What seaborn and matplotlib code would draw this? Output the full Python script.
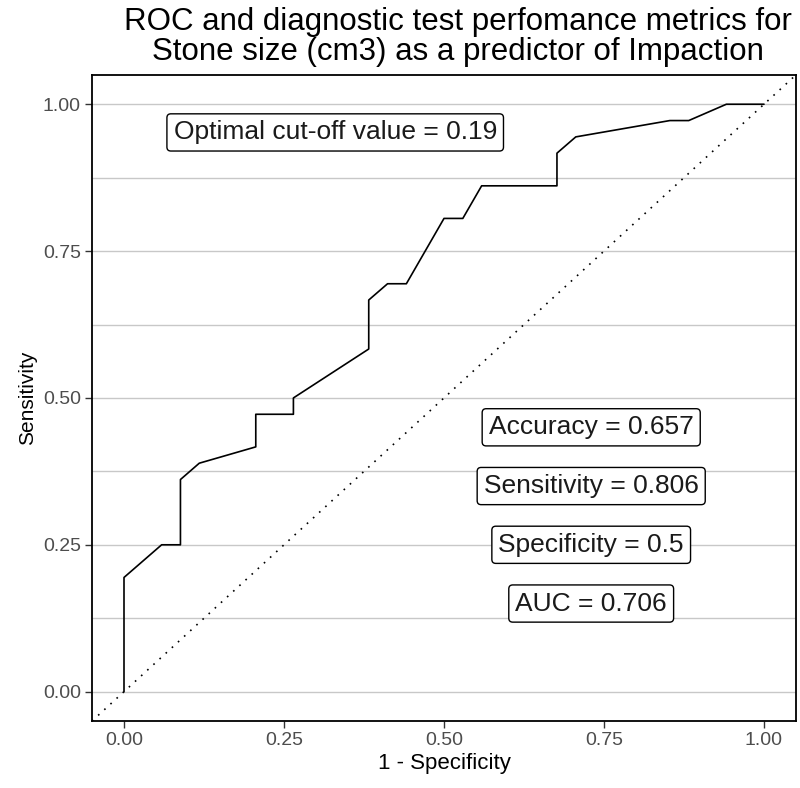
import pandas as pd
import matplotlib.pyplot as plt
import seaborn as sns
import numpy as np

sns.set_theme(style="white")
plt.rcParams['font.family'] = ['Liberation Sans', 'DejaVu Sans']

# ROC curve points (1 - specificity, sensitivity)
fpr = [0.0, 0.0, 0.0588, 0.0882, 0.0882, 0.1176, 0.2059, 0.2059, 0.2647, 0.2647,
       0.3824, 0.3824, 0.4118, 0.4412, 0.5, 0.5294, 0.5588, 0.6765, 0.6765,
       0.7059, 0.8529, 0.8824, 0.9412, 1.0]
tpr = [0.0, 0.1944, 0.25, 0.25, 0.3611, 0.3889, 0.4167, 0.4722, 0.4722, 0.5,
       0.5833, 0.6667, 0.6944, 0.6944, 0.8056, 0.8056, 0.8611, 0.8611, 0.9167,
       0.9444, 0.9722, 0.9722, 1.0, 1.0]

metric_labels = ["Accuracy = 0.657", "Sensitivity = 0.806",
                 "Specificity = 0.5", "AUC = 0.706"]
metric_y = [0.45, 0.35, 0.25, 0.15]
cutoff_label = "Optimal cut-off value = 0.19"

roc = pd.DataFrame({"fpr": fpr, "tpr": tpr})

fig = plt.figure(figsize=(8, 7.88), dpi=100)
ax = fig.add_axes([0.115, 0.085, 0.88, 0.82])

# horizontal grid only (major + minor)
for gy in np.arange(0, 1.01, 0.125):
    ax.axhline(gy, color="#c8c8c8", lw=1.0, zorder=0)

# reference diagonal across the whole panel
ax.plot([-0.05, 1.05], [-0.05, 1.05], color="black", lw=1.2,
        linestyle=(0, (1, 4)), zorder=1)

sns.lineplot(data=roc, x="fpr", y="tpr", sort=False, estimator=None,
             color="black", lw=1.2, ax=ax, zorder=2)

box = dict(boxstyle="round,pad=0.25,rounding_size=0.15", fc="white",
           ec="black", lw=1.0)
ax.text(0.33, 0.952, cutoff_label, ha="center", va="center",
        fontsize=19, color="#1a1a1a", bbox=box, zorder=3)
for lab, yy in zip(metric_labels, metric_y):
    ax.text(0.73, yy, lab, ha="center", va="center", fontsize=19,
            color="#1a1a1a", bbox=box, zorder=3)

ax.set_xlim(-0.05, 1.05)
ax.set_ylim(-0.05, 1.05)
ticks = [0, 0.25, 0.5, 0.75, 1.0]
ax.set_xticks(ticks)
ax.set_yticks(ticks)
ax.set_xticklabels(["0.00", "0.25", "0.50", "0.75", "1.00"])
ax.set_yticklabels(["0.00", "0.25", "0.50", "0.75", "1.00"])
ax.tick_params(axis="both", which="major", length=5, width=1, color="#333333",
               labelsize=14, labelcolor="#4d4d4d", pad=3, direction="out",
               bottom=True, left=True)
for sp in ax.spines.values():
    sp.set_color("black")
    sp.set_linewidth(1.3)

ax.set_xlabel("1 - Specificity", fontsize=16, color="black", labelpad=3)
ax.set_ylabel("Sensitivity", fontsize=15, color="black", labelpad=4)
fig.suptitle("ROC and diagnostic test perfomance metrics for\n"
             "Stone size (cm3) as a predictor of Impaction",
             x=0.5725, y=0.991, ha="center", va="top",
             fontsize=22.5, color="black", linespacing=1.0)

fig.savefig("out.png", dpi=100)
